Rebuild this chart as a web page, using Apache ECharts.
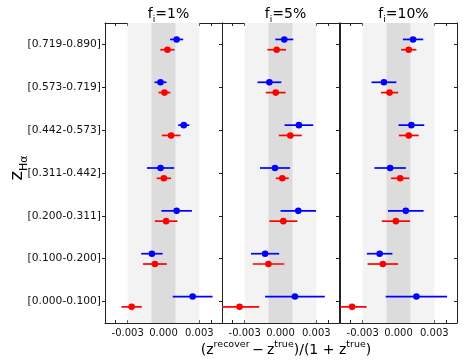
<!DOCTYPE html>
<html>
<head>
<meta charset="utf-8">
<script src="https://cdn.jsdelivr.net/npm/echarts@6/dist/echarts.min.js"></script>
<style>
  html, body { margin: 0; padding: 0; background: #fff; }
  #main { width: 464px; height: 362px; }
</style>
</head>
<body>
<div id="main"></div>
<script>
  // redshift bins, bottom to top
  var bins = ['[0.000-0.100]', '[0.100-0.200]', '[0.200-0.311]', '[0.311-0.442]', '[0.442-0.573]', '[0.573-0.719]', '[0.719-0.890]'];
  var fracs = ['1%', '5%', '10%'];
  var xTicks = [-0.004, -0.003, -0.002, -0.001, 0, 0.001, 0.002, 0.003, 0.004];
  var xLabels = [-0.003, 0, 0.003];

  // f_i = 1%
  var blue1 = [0.00244, -0.00097, 0.0011, -0.00025, 0.0017, -0.00025, 0.0011];
  var blue1Err = [0.00167, 0.0009, 0.00128, 0.00114, 0.00047, 0.0005, 0.00055];
  var red1 = [-0.00267, -0.00072, 0.00022, 0.00003, 0.00064, 0.00008, 0.00033];
  var red1Err = [0.00085, 0.001, 0.00094, 0.0006, 0.00078, 0.0005, 0.0006];
  // f_i = 5%
  var blue2 = [0.00121, -0.00129, 0.00149, -0.00046, 0.00154, -0.00093, 0.00032];
  var blue2Err = [0.0025, 0.00118, 0.00149, 0.00126, 0.0012, 0.001, 0.00075];
  var red2 = [-0.00343, -0.00101, 0.00024, 0.00015, 0.00082, -0.0004, -0.00032];
  var red2Err = [0.00165, 0.00132, 0.00117, 0.00054, 0.00096, 0.00083, 0.00078];
  // f_i = 10%
  var blue3 = [0.0015, -0.00158, 0.00061, -0.0007, 0.00108, -0.00122, 0.00122];
  var blue3Err = [0.00257, 0.00107, 0.00149, 0.00132, 0.00108, 0.00104, 0.00085];
  var red3 = [-0.00389, -0.00131, -0.00022, 0.00014, 0.00086, -0.00075, 0.00086];
  var red3Err = [0.00122, 0.00128, 0.00118, 0.00076, 0.00083, 0.00072, 0.00064];

  var blues = [[blue1, blue1Err], [blue2, blue2Err], [blue3, blue3Err]];
  var reds = [[red1, red1Err], [red2, red2Err], [red3, red3Err]];

  var FONT = 'DejaVu Sans';
  var lefts = [105, 222, 340];
  var W = 117, TOP = 23, H = 300;

  // one errorbar point: horizontal bar + dot, shifted dy px off the bin centre
  function errItem(dy, color) {
    return function (params, api) {
      var y = api.value(0), c = api.value(1), e = api.value(2);
      var p = api.coord([c, y]);
      var a = api.coord([c - e, y]);
      var b = api.coord([c + e, y]);
      var py = p[1] + dy;
      return {
        type: 'group',
        children: [
          { type: 'line', shape: { x1: a[0], y1: py, x2: b[0], y2: py }, style: { stroke: color, lineWidth: 1.7 } },
          { type: 'circle', shape: { cx: p[0], cy: py, r: 3.3 }, style: { fill: color } }
        ]
      };
    };
  }

  function toData(pair) {
    return pair[0].map(function (v, i) { return [i, v, pair[1][i]]; });
  }

  var grids = [], xAxes = [], yAxes = [], series = [], titles = [];
  for (var k = 0; k < 3; k++) {
    grids.push({ left: lefts[k], top: TOP, width: W, height: H });
    var xBase = {
      type: 'value', gridIndex: k, min: -0.0049, max: 0.0049,
      axisLine: { show: true, onZero: false, lineStyle: { color: '#222', width: 1 } },
      splitLine: { show: false }
    };
    // bottom
    xAxes.push(Object.assign({}, xBase, {
      position: 'bottom',
      axisTick: { show: true, inside: true, length: 3, customValues: xTicks, lineStyle: { color: '#222' } },
      axisLabel: {
        customValues: xLabels, margin: 5, color: '#111', fontFamily: FONT, fontSize: 10,
        formatter: function (v) { return v.toFixed(3); }
      }
    }));
    // top
    xAxes.push(Object.assign({}, xBase, {
      position: 'top',
      axisTick: { show: true, inside: true, length: 3, customValues: xTicks, lineStyle: { color: '#222' } },
      axisLabel: { show: false }
    }));
    // left
    yAxes.push({
      type: 'category', gridIndex: k, data: bins, position: 'left',
      axisLine: { show: true, onZero: false, lineStyle: { color: '#222' } },
      axisTick: { show: true, alignWithLabel: true, length: 3, lineStyle: { color: '#222' } },
      axisLabel: { show: k === 0, margin: 4, color: '#111', fontFamily: FONT, fontSize: 10.7 },
      splitLine: { show: false }
    });
    // right
    yAxes.push({
      type: 'category', gridIndex: k, data: bins, position: 'right',
      axisLine: { show: true, onZero: false, lineStyle: { color: '#222' } },
      axisTick: { show: true, inside: true, alignWithLabel: true, length: 3, lineStyle: { color: '#222' } },
      axisLabel: { show: false },
      splitLine: { show: false }
    });

    // grey bands at +-0.001 and +-0.003
    series.push({
      type: 'line', xAxisIndex: 2 * k, yAxisIndex: 2 * k, data: [], silent: true, z: 0,
      markArea: {
        silent: true,
        data: [
          [{ xAxis: -0.003, itemStyle: { color: '#f3f3f3' } }, { xAxis: 0.003 }],
          [{ xAxis: -0.001, itemStyle: { color: '#dcdcdc' } }, { xAxis: 0.001 }]
        ]
      }
    });
    series.push({
      type: 'custom', xAxisIndex: 2 * k, yAxisIndex: 2 * k, clip: true, z: 3,
      renderItem: errItem(-5, '#0000ff'), encode: { x: 1, y: 0 }, data: toData(blues[k])
    });
    series.push({
      type: 'custom', xAxisIndex: 2 * k, yAxisIndex: 2 * k, clip: true, z: 3,
      renderItem: errItem(5.3, '#ff0000'), encode: { x: 1, y: 0 }, data: toData(reds[k])
    });

    titles.push({
      text: '{n|f}{s|i}{n|=' + fracs[k] + '}',
      left: lefts[k] + W / 2, top: -4, textAlign: 'center',
      textStyle: {
        fontWeight: 'normal',
        rich: {
          n: { fontFamily: FONT, fontSize: 14, fontWeight: 'normal', color: '#000', lineHeight: 20, verticalAlign: 'bottom' },
          s: { fontFamily: FONT, fontSize: 9, fontWeight: 'normal', color: '#000', lineHeight: 20, verticalAlign: 'bottom', padding: [0, 0, -3, 0] }
        }
      }
    });
  }

  // x axis title
  titles.push({
    text: '{n|(z}{p|recover}{n|\u2009\u2212\u2009z}{p|true}{n|)/(1 + z}{p|true}{n|)}',
    left: 281, top: 332, textAlign: 'center',
    textStyle: {
      fontWeight: 'normal',
      rich: {
        n: { fontFamily: FONT, fontSize: 14, fontWeight: 'normal', color: '#000', lineHeight: 20, verticalAlign: 'bottom' },
        p: { fontFamily: FONT, fontSize: 9.5, fontWeight: 'normal', color: '#000', lineHeight: 20, verticalAlign: 'bottom', padding: [0, 0, 7, 0] }
      }
    }
  });

  var chart = echarts.init(document.getElementById('main'), null, { renderer: 'canvas' });
  chart.setOption({
    animation: false,
    backgroundColor: '#fff',
    title: titles,
    grid: grids,
    xAxis: xAxes,
    yAxis: yAxes,
    series: series,
    graphic: [{
      type: 'text', x: 15, y: 168, rotation: Math.PI / 2,
      style: {
        text: '{z|z}{s|H\u03b1}', align: 'center', verticalAlign: 'middle',
        rich: {
          z: { fontFamily: FONT, fontSize: 18, fill: '#000', lineHeight: 22, verticalAlign: 'bottom' },
          s: { fontFamily: FONT, fontSize: 11, fill: '#000', lineHeight: 22, verticalAlign: 'bottom', padding: [0, 0, -4, 0] }
        }
      }
    }]
  });
</script>
</body>
</html>
